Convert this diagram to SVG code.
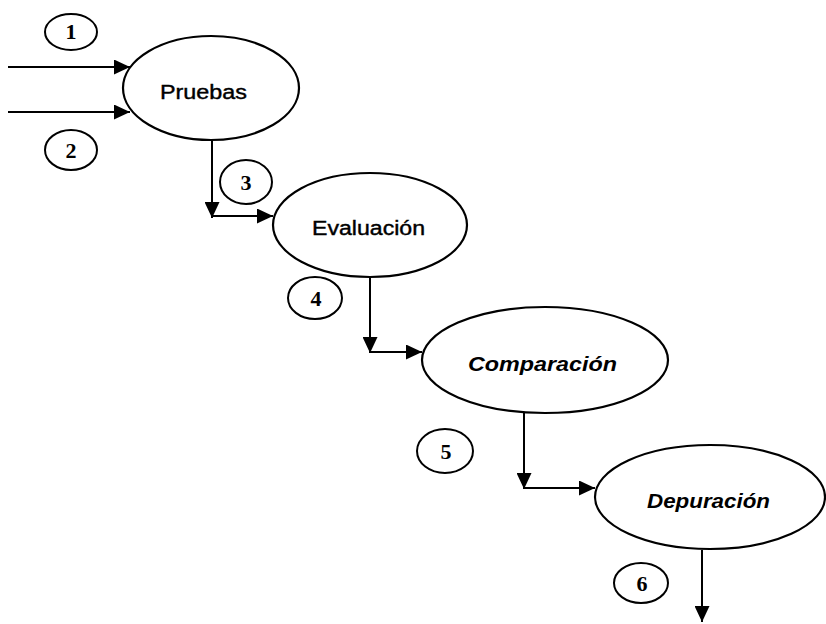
<svg xmlns="http://www.w3.org/2000/svg" width="826" height="624" viewBox="0 0 826 624">
<style>
.node{fill:#fff;stroke:#000;stroke-width:2.2}
.lbl-ell{fill:none;stroke:#000;stroke-width:2}
.t{font-family:"Liberation Sans",Arial,sans-serif;font-size:20px;fill:#000;stroke:#000;stroke-width:0.4}
.tb{font-family:"Liberation Sans",Arial,sans-serif;font-size:20px;font-weight:bold;font-style:italic;fill:#000}
.num{font-family:"Liberation Serif","Times New Roman",serif;font-size:22px;font-weight:bold;fill:#000;text-anchor:middle}
.c{fill:none;stroke:#000;stroke-width:2}
</style>
<defs>
<marker id="ah" markerUnits="userSpaceOnUse" markerWidth="17" markerHeight="15" refX="16" refY="7.5" orient="auto">
<path d="M0,0 L16,7.5 L0,15 Z" fill="#000"/>
</marker>
</defs>
<rect width="826" height="624" fill="#fff"/>
<g id="connectors">
<line class="c" x1="8" y1="67" x2="130" y2="67" marker-end="url(#ah)"/>
<line class="c" x1="8" y1="112" x2="130" y2="112" marker-end="url(#ah)"/>
<line class="c" x1="212" y1="140" x2="212" y2="218" marker-end="url(#ah)"/>
<line class="c" x1="212" y1="216" x2="273" y2="216" marker-end="url(#ah)"/>
<line class="c" x1="370" y1="277" x2="370" y2="353" marker-end="url(#ah)"/>
<line class="c" x1="370" y1="352" x2="422" y2="352" marker-end="url(#ah)"/>
<line class="c" x1="524" y1="413" x2="524" y2="489" marker-end="url(#ah)"/>
<line class="c" x1="524" y1="488" x2="595" y2="488" marker-end="url(#ah)"/>
<line class="c" x1="702" y1="550" x2="702" y2="622" marker-end="url(#ah)"/>
</g>
<g id="pruebas">
<ellipse class="node" cx="211" cy="88" rx="88" ry="52"/>
<text class="t" x="160" y="99" textLength="87" lengthAdjust="spacingAndGlyphs">Pruebas</text>
</g>
<g id="evaluacion">
<ellipse class="node" cx="370" cy="225" rx="97" ry="52"/>
<text class="t" x="312" y="235" textLength="113" lengthAdjust="spacingAndGlyphs">Evaluación</text>
</g>
<g id="comparacion">
<ellipse class="node" cx="545" cy="360" rx="123" ry="53"/>
<text class="tb" x="468" y="371" textLength="149" lengthAdjust="spacingAndGlyphs">Comparación</text>
</g>
<g id="depuracion">
<ellipse class="node" cx="710" cy="497" rx="115" ry="52"/>
<text class="tb" x="647" y="508" textLength="123" lengthAdjust="spacingAndGlyphs">Depuración</text>
</g>
<g id="n1"><ellipse class="lbl-ell" cx="71" cy="32" rx="26" ry="18"/><text class="num" x="71" y="39">1</text></g>
<g id="n2"><ellipse class="lbl-ell" cx="71" cy="150" rx="26" ry="20"/><text class="num" x="71" y="158">2</text></g>
<g id="n3"><ellipse class="lbl-ell" cx="246" cy="182" rx="26" ry="22"/><text class="num" x="246" y="190">3</text></g>
<g id="n4"><ellipse class="lbl-ell" cx="315" cy="298" rx="27" ry="21"/><text class="num" x="316" y="306">4</text></g>
<g id="n5"><ellipse class="lbl-ell" cx="445" cy="451" rx="28" ry="22"/><text class="num" x="446" y="459">5</text></g>
<g id="n6"><ellipse class="lbl-ell" cx="641" cy="583" rx="27" ry="20"/><text class="num" x="642" y="591">6</text></g>
</svg>
